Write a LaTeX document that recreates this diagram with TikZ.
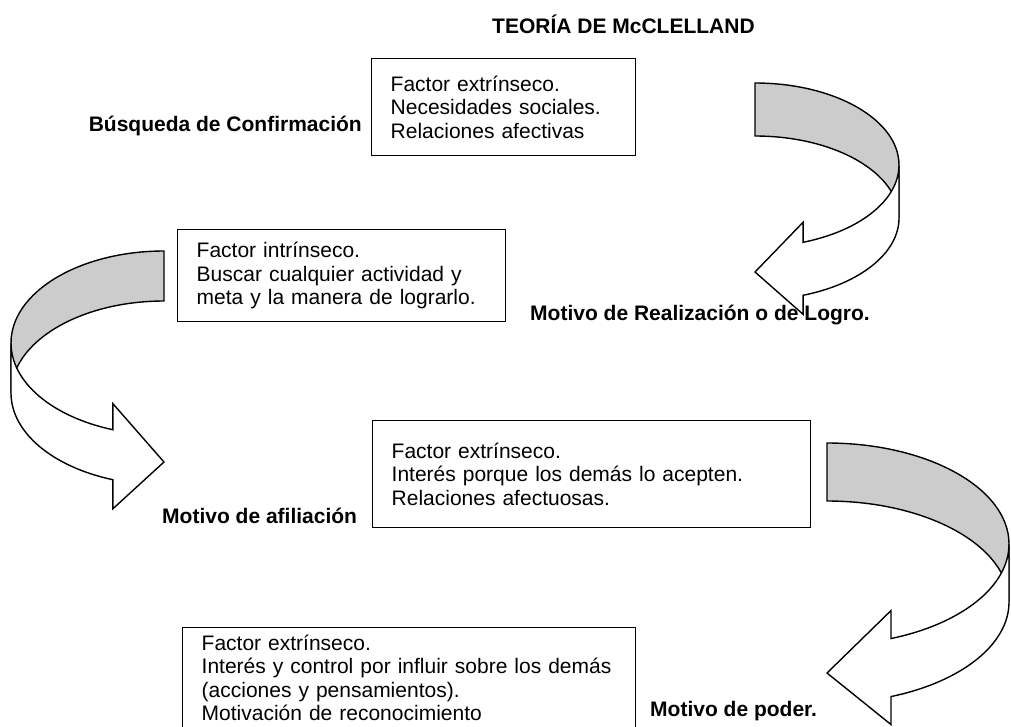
\documentclass[tikz,border=0pt]{standalone}
\usepackage{fontspec}
\setmainfont{Liberation Sans}
\tikzset{
    caja/.style = {draw, line width=1.4pt, anchor=north west, align=left,
                   inner xsep=19pt, inner ysep=0pt,
                   font=\fontsize{21}{23.5}\selectfont},
    rotulo/.style = {inner sep=0pt, font=\bfseries\fontsize{21}{23.5}\selectfont},
    cinta-fondo/.style = {draw, fill=black!20, line width=1.4pt},
    cinta-frente/.style = {draw, fill=white, line width=1.4pt, line join=miter}
}
% cinta curva con punta: #1 posicion, #2 radio x, #3 radio y, #4 grosor,
% #5 angulo de la base, #6 altura de la punta, #7 ala superior, #8 ala inferior
\newcommand{\cintacurva}[8]{%
    \begin{scope}[#1]
        \pgfmathsetmacro{\cintabx}{#2*cos(#5)}
        \pgfmathsetmacro{\cintaby}{#3*sin(#5)}
        \filldraw[cinta-fondo] (0,-#3) arc[start angle=-90, end angle=0, x radius=#2, y radius=#3]
            -- (#2,#4) arc[start angle=0, end angle=-90, x radius=#2, y radius=#3] -- cycle;
        \filldraw[cinta-frente] (#2,0) arc[start angle=0, end angle=#5, x radius=#2, y radius=#3]
            -- (\cintabx,\cintaby-#7) -- (0,#6) -- (\cintabx,\cintaby+#4+#8)
            -- (\cintabx,\cintaby+#4) arc[start angle=#5, end angle=0, x radius=#2, y radius=#3]
            -- cycle;
    \end{scope}}

\begin{document}
\begin{tikzpicture}[x=1pt, y=-1pt]
    \useasboundingbox (0,0) rectangle (1011,726);
    \clip (0,0) rectangle (1011,726);

    \node[rotulo, anchor=base west] (titulo) at (492,33) {TEORÍA DE McCLELLAND};

    % flechas curvas
    \cintacurva{shift={(755,165)}}{144}{82}{53}{70.5}{107}{20}{19}
    \cintacurva{shift={(164,343)}, xscale=-1}{153}{92}{50}{70.5}{119}{26}{29}
    \cintacurva{shift={(827,544)}}{182}{101}{58}{69.4}{129}{28}{28}

    \node[caja, text width=226pt, minimum height=97pt] (caja-1) at (371,58)
        {Factor extrínseco.\\Necesidades sociales.\\Relaciones afectivas};
    \node[rotulo, anchor=base east] (motivo-1) at (362,131) {Búsqueda de Confirmación};

    \node[caja, text width=290pt, minimum height=92pt] (caja-2) at (177,229)
        {Factor intrínseco.\\Buscar cualquier actividad y\\meta y la manera de lograrlo.};
    \node[rotulo, anchor=base west] (motivo-2) at (530,320) {Motivo de Realización o de Logro.};

    \node[caja, text width=400pt, minimum height=107pt] (caja-3) at (372,420)
        {Factor extrínseco.\\Interés porque los demás lo acepten.\\Relaciones afectuosas.};
    \node[rotulo, anchor=base west] (motivo-3) at (162,523) {Motivo de afiliación};

    \node[caja, text width=415pt, minimum height=124pt] (caja-4) at (182,627)
        {Factor extrínseco.\\Interés y control por influir sobre los demás\\(acciones y pensamientos).\\Motivación de reconocimiento\\ \mbox{}};
    \node[rotulo, anchor=base west] (motivo-4) at (650,716) {Motivo de poder.};
\end{tikzpicture}
\end{document}
